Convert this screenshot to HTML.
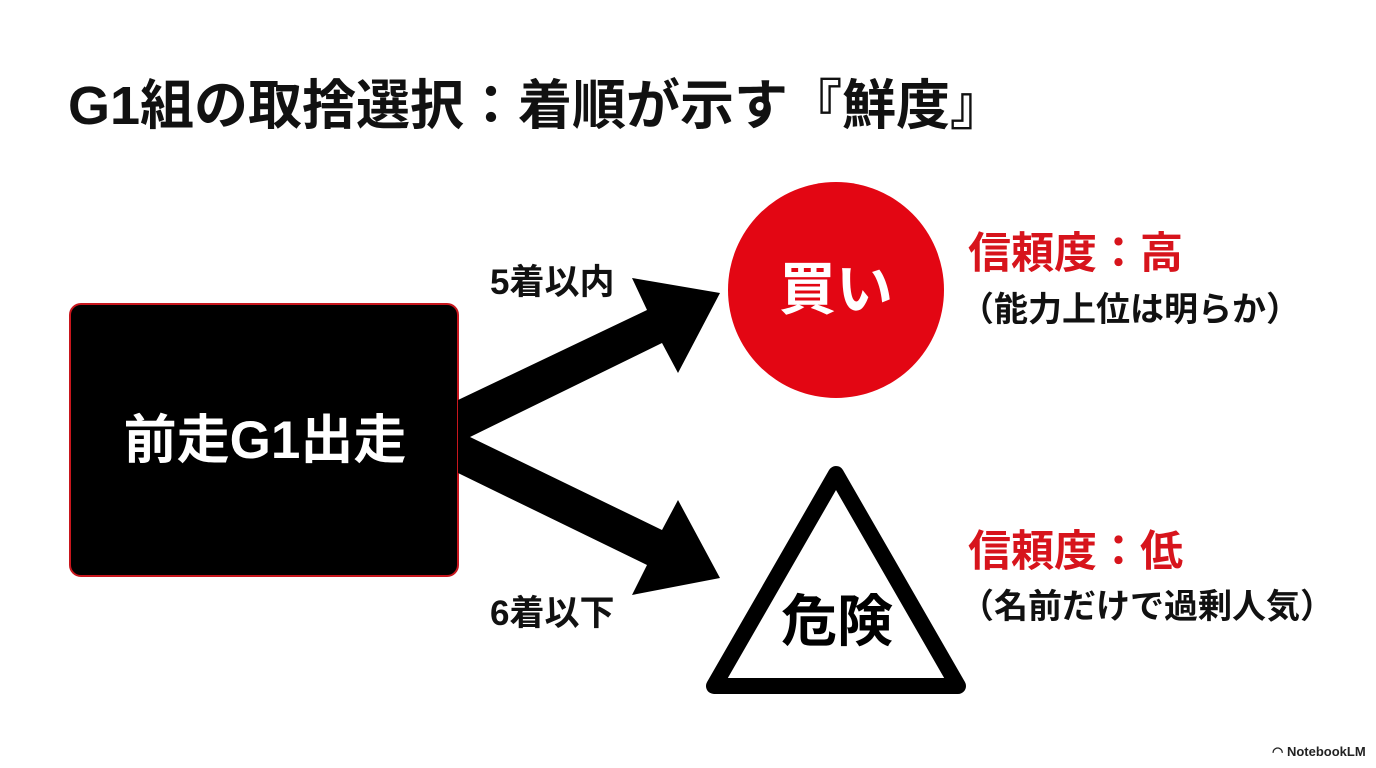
<!DOCTYPE html>
<html><head><meta charset="utf-8"><style>
body{margin:0;width:1376px;height:768px;background:#fff;position:relative;overflow:hidden;font-family:"Liberation Sans","Noto Sans CJK JP",sans-serif;font-weight:bold}
.t{position:absolute;white-space:nowrap;line-height:1}
</style></head><body>
<div class="t" style="left:68px;top:79px;font-size:54px;color:#111">G1組の取捨選択：着順が示す『鮮度』</div>
<div style="position:absolute;left:69px;top:303px;width:386px;height:270px;background:#000;border:2px solid #c8161d;border-radius:12px"></div>
<div class="t" style="left:70px;top:414px;width:390px;text-align:center;font-size:53px;color:#fff">前走G1出走</div>
<svg width="1376" height="768" style="position:absolute;left:0;top:0">
<polygon points="458,400 647,310 632,278 720,293 678,373 662,343 470,437 662,530 678,500 720,578 632,595 647,565 458,473" fill="#000"/>
<circle cx="836" cy="290" r="108" fill="#e30613"/>
<polygon points="836,474 714,686 958,686" fill="#fff" stroke="#000" stroke-width="16" stroke-linejoin="round"/>
</svg>
<div class="t" style="left:728px;top:262px;width:216px;text-align:center;font-size:57px;color:#fff">買い</div>
<div class="t" style="left:712px;top:594px;width:250px;text-align:center;font-size:56px;color:#000">危険</div>
<div class="t" style="left:490px;top:265px;font-size:35px;color:#111">5着以内</div>
<div class="t" style="left:490px;top:596px;font-size:35px;color:#111">6着以下</div>
<div class="t" style="left:968px;top:233px;font-size:43px;color:#d7141c">信頼度：高</div>
<div class="t" style="left:960px;top:293px;font-size:34px;color:#111">（能力上位は明らか）</div>
<div class="t" style="left:968px;top:531px;font-size:43px;color:#d7141c">信頼度：低</div>
<div class="t" style="left:960px;top:590px;font-size:34px;color:#111">（名前だけで過剰人気）</div>
<div class="t" style="left:1272px;top:745px;font-size:13px;color:#222">◠ NotebookLM</div>
</body></html>
